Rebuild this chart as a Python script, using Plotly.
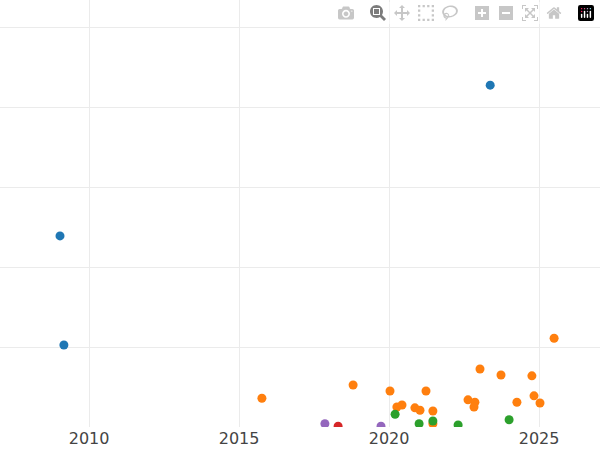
import plotly.graph_objects as go

blue_x = [2023.37, 2009.03, 2009.16]
blue_y = [4.275, 2.39, 1.025]

orange_x = [2015.76, 2018.8, 2020.03, 2020.26, 2020.43, 2020.86, 2021.03, 2021.23, 2021.46, 2021.46,
            2022.63, 2022.86, 2022.83, 2023.03, 2023.73, 2024.26, 2024.76, 2024.83, 2025.03, 2025.5]
orange_y = [0.36, 0.525, 0.45, 0.25, 0.275, 0.24, 0.21, 0.45, 0.2, 0.04,
            0.34, 0.31, 0.25, 0.725, 0.65, 0.31, 0.64, 0.39, 0.3, 1.11]

green_x = [2020.2, 2021.0, 2021.46, 2022.3, 2024.0]
green_y = [0.16, 0.04, 0.075, 0.025, 0.09]

purple_x = [2017.86, 2019.73]
purple_y = [0.04, 0.01]

red_x = [2018.3]
red_y = [0.01]

fig = go.Figure()
for xs, ys, c in [(blue_x, blue_y, '#1f77b4'), (orange_x, orange_y, '#ff7f0e'),
                  (green_x, green_y, '#2ca02c'), (purple_x, purple_y, '#9467bd'),
                  (red_x, red_y, '#d62728')]:
    fig.add_trace(go.Scatter(x=xs, y=ys, mode='markers',
                             marker=dict(color=c, size=9), cliponaxis=True))

fig.update_layout(
    width=600, height=450,
    template='plotly_white',
    showlegend=False,
    margin=dict(l=0, r=0, t=0, b=23),
    font=dict(family='DejaVu Sans', size=16, color='#444'),
    xaxis=dict(range=[2007.03, 2027.03], tickvals=[2010, 2015, 2020, 2025],
               showgrid=True, gridcolor='#ebebeb', zeroline=False),
    yaxis=dict(range=[0, 5.34], dtick=1, showticklabels=False,
               gridcolor='#ebebeb', zeroline=False),
)

fig.write_html("out.html")

# drop the browser's default page margin so the chart sits at the corner
with open("out.html") as f:
    html = f.read()
html = html.replace("<body>", '<body style="margin:0;overflow:hidden">', 1)
with open("out.html", "w") as f:
    f.write(html)
